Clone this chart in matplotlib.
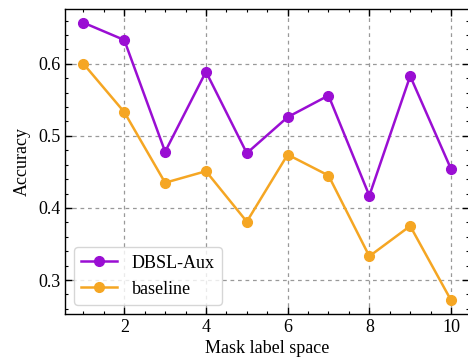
import numpy as np
import matplotlib.pyplot as plt
from matplotlib.ticker import AutoMinorLocator

plt.rcParams['font.family'] = ['Liberation Serif', 'DejaVu Serif']
plt.rcParams['mathtext.fontset'] = 'stix'

mask_space = [1, 2, 3, 4, 5, 6, 7, 8, 9, 10]
dbsl_aux = [0.657, 0.633, 0.478, 0.589, 0.476, 0.526, 0.556, 0.417, 0.583, 0.454]
baseline = [0.600, 0.533, 0.435, 0.451, 0.381, 0.474, 0.445, 0.333, 0.375, 0.272]

fig = plt.figure(figsize=(4.68, 3.6), dpi=100)
ax = fig.add_axes([0.139, 0.128, 0.864, 0.847])

ax.plot(mask_space, dbsl_aux, '-o', color='#9A0ED3', lw=1.8, ms=7, label='DBSL-Aux')
ax.plot(mask_space, baseline, '-o', color='#F5A623', lw=1.8, ms=7, label='baseline')

ax.set_xlim(0.55, 10.45)
ax.set_ylim(0.253, 0.676)
ax.set_xticks([2, 4, 6, 8, 10])
ax.set_yticks([0.3, 0.4, 0.5, 0.6])
ax.xaxis.set_minor_locator(AutoMinorLocator(4))
ax.yaxis.set_minor_locator(AutoMinorLocator(5))
ax.tick_params(which='both', direction='in', top=True, right=True, labelsize=13)
ax.tick_params(which='major', length=5, width=1)
ax.tick_params(which='minor', length=2.5, width=0.8)
ax.grid(True, which='major', ls=(0, (3, 3)), color='#999999', lw=0.9)
for s in ax.spines.values():
    s.set_linewidth(1)

ax.set_xlabel('Mask label space', fontsize=13, labelpad=3)
ax.set_ylabel('Accuracy', fontsize=13, labelpad=5)

leg = ax.legend(loc='lower left', fontsize=13, frameon=True, handlelength=2.0,
                borderaxespad=0.5)
leg.get_frame().set_edgecolor('#cccccc')

fig.savefig('out.png', dpi=100)
